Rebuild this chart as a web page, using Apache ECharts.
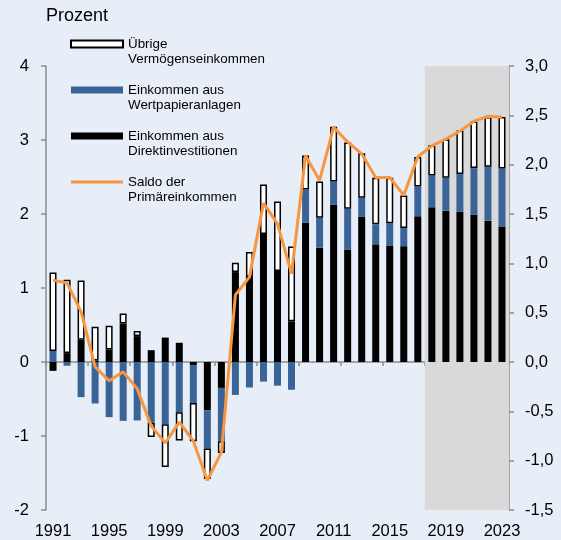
<!DOCTYPE html>
<html>
<head>
<meta charset="utf-8">
<script src="https://cdn.jsdelivr.net/npm/echarts@6/dist/echarts.min.js"></script>
<style>
  html, body { margin: 0; padding: 0; background: #e8eef7; }
  #chart { width: 561px; height: 540px; }
</style>
</head>
<body>
<div id="chart"></div>
<script>
// Jahre (Kategorien)
const years = [
  "1991", "1992", "1993", "1994", "1995", "1996", "1997", "1998", "1999", "2000",
  "2001", "2002", "2003", "2004", "2005", "2006", "2007", "2008", "2009", "2010",
  "2011", "2012", "2013", "2014", "2015", "2016", "2017", "2018", "2019", "2020",
  "2021", "2022", "2023"
];
// Einkommen aus Direktinvestitionen (linke Achse)
const direkt = [
  -0.12, 0.12, 0.30, 0.02, 0.17, 0.52, 0.35, 0.16, 0.33, 0.26,
  -0.04, -0.655, -0.35, 1.215, 1.15, 1.73, 1.23, 0.55, 1.88, 1.545,
  2.13, 1.52, 1.96, 1.59, 1.575, 1.565, 1.97, 2.09, 2.045, 2.03,
  1.99, 1.91, 1.83
];
// Einkommen aus Wertpapieranlagen (linke Achse)
const wertpapier = [
  0.15, -0.05, -0.475, -0.56, -0.745, -0.795, -0.79, -0.825, -0.84, -0.68,
  -0.515, -0.515, -0.72, -0.445, -0.345, -0.265, -0.32, -0.375, 0.45, 0.405,
  0.31, 0.55, 0.26, 0.27, 0.30, 0.245, 0.40, 0.43, 0.445, 0.51,
  0.63, 0.73, 0.785
];
// Übrige Vermögenseinkommen (linke Achse)
const uebrige = [
  1.06, 0.99, 0.80, 0.455, 0.32, 0.135, 0.07, -0.19, -0.58, -0.38,
  -0.515, -0.41, -0.16, 0.125, 0.335, 0.67, 0.94, 1.01, 0.46, 0.49,
  0.74, 0.895, 0.60, 0.63, 0.615, 0.44, 0.40, 0.41, 0.52, 0.59,
  0.63, 0.67, 0.695
];
// Saldo der Primäreinkommen (rechte Achse)
const saldo = [
  0.83, 0.80, 0.51, -0.05, -0.19, -0.10, -0.27, -0.65, -0.82, -0.61,
  -0.80, -1.20, -0.915, 0.68, 0.86, 1.61, 1.40, 0.895, 2.09, 1.84,
  2.38, 2.23, 2.11, 1.87, 1.87, 1.69, 2.08, 2.19, 2.26, 2.34,
  2.44, 2.49, 2.48
];
const prognoseAb = "2018";

const font = "Liberation Sans, Arial, sans-serif";
const axisGrey = "#8c8c8c";
const nameUebrige = "Übrige\nVermögenseinkommen";
const nameWertpapier = "Einkommen aus\nWertpapieranlagen";
const nameDirekt = "Einkommen aus\nDirektinvestitionen";
const nameSaldo = "Saldo der\nPrimäreinkommen";

var myChart = echarts.init(document.getElementById("chart"));
var option = {
  backgroundColor: "#e8eef7",
  animation: false,
  textStyle: { fontFamily: font },
  title: {
    text: "Prozent",
    left: 46,
    top: 7,
    padding: 0,
    textStyle: { fontSize: 18, fontWeight: "normal", color: "#000", fontFamily: font },
  },
  legend: {
    orient: "vertical",
    left: 70,
    top: 21.5,
    padding: 0,
    itemWidth: 52,
    itemHeight: 7,
    itemGap: 1,
    selectedMode: false,
    // leere erste Zeile, damit die erste Textzeile auf Höhe des Symbols steht
    formatter: function (name) {
      return "\n" + name;
    },
    textStyle: { fontSize: 13.4, lineHeight: 15, color: "#000", fontFamily: font },
    data: [
      { name: nameUebrige, icon: "rect" },
      { name: nameWertpapier, icon: "rect" },
      { name: nameDirekt, icon: "rect" },
      { name: nameSaldo, icon: "path://M0,0H52V3H0Z" },
    ],
  },
  grid: { left: 46, right: 52, top: 66, bottom: 28, containLabel: false },
  xAxis: [
    {
      type: "category",
      data: years,
      position: "bottom",
      axisLine: { show: false, onZero: false },
      axisTick: { show: false },
      axisLabel: { interval: 3, fontSize: 16.5, color: "#000", margin: 13, fontFamily: font },
    },
    {
      type: "category",
      data: years,
      position: "top",
      axisLine: { show: true, onZero: true, lineStyle: { color: axisGrey, width: 1.5 } },
      axisTick: { show: true, inside: true, length: 4, lineStyle: { color: axisGrey, width: 1.5 } },
      axisLabel: { show: false },
    },
    {
      type: "value",
      min: -0.5,
      max: years.length - 0.5,
      show: false,
    },
  ],
  yAxis: [
    {
      type: "value",
      min: -2,
      max: 4,
      interval: 1,
      position: "left",
      axisLine: { show: true, onZero: false, lineStyle: { color: axisGrey, width: 1.5 } },
      axisTick: { show: true, length: 5, lineStyle: { color: axisGrey, width: 1.5 } },
      axisLabel: { fontSize: 16.5, color: "#000", margin: 17, fontFamily: font },
      splitLine: { show: false },
    },
    {
      type: "value",
      min: -1.5,
      max: 3,
      interval: 0.5,
      position: "right",
      axisLine: { show: true, onZero: false, lineStyle: { color: axisGrey, width: 1.5 } },
      axisTick: { show: true, length: 5, lineStyle: { color: axisGrey, width: 1.5 } },
      axisLabel: {
        fontSize: 16.5,
        color: "#000",
        margin: 16,
        fontFamily: font,
        formatter: function (v) {
          return v.toFixed(1).replace(".", ",");
        },
      },
      splitLine: { show: false },
    },
  ],
  series: [
    {
      name: "prognose",
      type: "line",
      xAxisIndex: 2,
      yAxisIndex: 0,
      data: [],
      z: 1,
      silent: true,
      markArea: {
        silent: true,
        itemStyle: { color: "#d9d9d9" },
        data: [[{ xAxis: years.indexOf(prognoseAb) - 0.5 }, { xAxis: years.length - 0.5 }]],
      },
    },
    {
      name: nameDirekt,
      type: "bar",
      stack: "summe",
      barWidth: 7,
      xAxisIndex: 0,
      yAxisIndex: 0,
      itemStyle: { color: "#000000" },
      data: direkt,
    },
    {
      name: nameWertpapier,
      type: "bar",
      stack: "summe",
      barWidth: 7,
      xAxisIndex: 0,
      yAxisIndex: 0,
      itemStyle: { color: "#3a6497" },
      data: wertpapier,
    },
    {
      name: nameUebrige,
      type: "bar",
      stack: "summe",
      barWidth: 7,
      xAxisIndex: 0,
      yAxisIndex: 0,
      itemStyle: { color: "#ffffff", borderColor: "#000000", borderWidth: 1.5 },
      data: uebrige,
    },
    {
      name: nameSaldo,
      type: "line",
      xAxisIndex: 0,
      yAxisIndex: 1,
      symbol: "none",
      z: 4,
      lineStyle: { width: 3, color: "#f7963f" },
      itemStyle: { color: "#f7963f" },
      data: saldo,
    },
  ],
};
myChart.setOption(option);
window.addEventListener("resize", function () {
  myChart.resize();
});
</script>
</body>
</html>
